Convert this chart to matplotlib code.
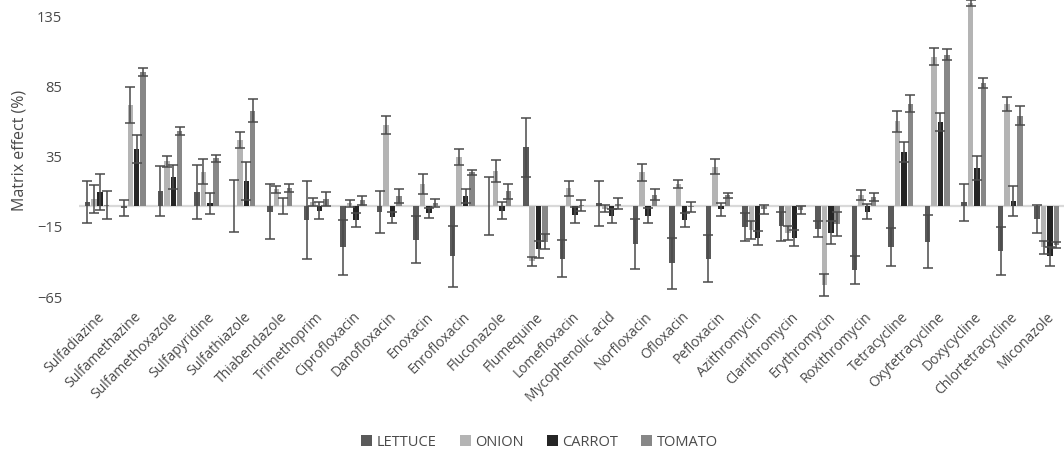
import numpy as np
import matplotlib
matplotlib.use("Agg")
import matplotlib.pyplot as plt

plt.rcParams['font.family'] = ['Open Sans', 'DejaVu Sans']

compounds = ["Sulfadiazine", "Sulfamethazine", "Sulfamethoxazole", "Sulfapyridine",
             "Sulfathiazole", "Thiabendazole", "Trimethoprim", "Ciprofloxacin",
             "Danofloxacin", "Enoxacin", "Enrofloxacin", "Fluconazole", "Flumequine",
             "Lomefloxacin", "Mycophenolic acid", "Norfloxacin", "Ofloxacin",
             "Pefloxacin", "Azithromycin", "Clarithromycin", "Erythromycin",
             "Roxithromycin", "Tetracycline", "Oxytetracycline", "Doxycycline",
             "Chlortetracycline", "Miconazole"]

lettuce = [3, -1.5, 10.5, 10, 0, -4, -10, -29.5, -4, -24, -36, 0, 42, -37.5, 2,
           -27, -41, -37.5, -15, -14.5, -16.5, -45.5, -29.5, -25.5, 2.5, -32, -9]
lettuce_err = [15, 6, 18, 19, 18.5, 19.5, 28, 19.5, 15, 16.5, 21.5, 20.5, 21, 13, 16,
               18, 18, 17, 10, 10.5, 6, 10, 13.5, 19, 13, 17, 10]

onion = [5, 72, 32, 24.5, 47, 12, 3, 2, 58, 15.5, 35, 25, -39.5, 12.5, -2,
         24, 15.5, 28, -17, -19.5, -56.5, 8, 60.5, 106.5, 145, 73, -29.5]
onion_err = [10, 13, 4, 9, 5.5, 2.5, 3, 2.5, 6.5, 7, 5.5, 8, 3, 5.5, 2.5,
             6, 3, 5.5, 6.5, 5, 8, 3.5, 7.5, 6, 2, 5, 4.5]

carrot = [10, 41, 20.5, 2, 18, 0, -3.5, -10, -8, -5, 7, -3.5, -31, -6.5, -7,
          -7, -10, -2.5, -23, -23, -19, -4, 38.5, 60, 27, 3.5, -36]
carrot_err = [13, 10, 8.5, 7.5, 13.5, 5.5, 6, 5, 4, 3.5, 5, 6, 6, 5.5, 5,
              5.5, 5, 4.5, 5, 5.5, 8, 5.5, 7, 6.5, 8.5, 10.5, 7]

tomato = [1, 95.5, 53.5, 34, 68, 13, 5, 4, 7, 2, 24, 10.5, -25.5, 0.5, 1.5,
          8, -1, 7.5, -2.5, -3, -13, 6.5, 73, 108, 87.5, 64.5, -28]
tomato_err = [10, 3, 3, 2.5, 8, 3, 5, 3, 5, 3, 2, 5.5, 5.5, 4, 4,
              4, 3.5, 2, 3, 3, 8.5, 3, 6, 4, 3.5, 6.5, 2]

series = [("LETTUCE", lettuce, lettuce_err, "#5a5a5a"),
          ("ONION", onion, onion_err, "#b4b4b4"),
          ("CARROT", carrot, carrot_err, "#252525"),
          ("TOMATO", tomato, tomato_err, "#878787")]

text_color = "#4a4a4a"

fig = plt.figure(figsize=(10.64, 4.53), dpi=100)
ax = fig.add_axes([0.074, 0.335, 0.927, 0.665])

x = np.arange(len(compounds))
step = 0.175
width = 0.15
for i, (name, vals, errs, color) in enumerate(series):
    ax.bar(x + (i - 1.5) * step, vals, width, color=color, label=name,
           yerr=errs, capsize=3.5,
           error_kw=dict(ecolor="#4a4a4a", elinewidth=1.1, capthick=1.1),
           zorder=2)

ax.axhline(0, color="#d9d9d9", linewidth=1.6, zorder=1)

ax.set_xlim(-0.5, len(compounds) - 0.5)
ax.set_ylim(-68, 147)
ax.set_yticks([-65, -15, 35, 85, 135])
ax.set_xticks(x)
ax.set_xticklabels(compounds, rotation=45, ha="right", rotation_mode="anchor",
                   fontsize=10, color=text_color)
ax.tick_params(axis="both", length=0)
ax.tick_params(axis="y", labelsize=10.5, colors=text_color, pad=12)
ax.tick_params(axis="x", pad=6)
for s in ax.spines.values():
    s.set_visible(False)

ax.set_ylabel("Matrix effect (%)", fontsize=11.5, color=text_color, labelpad=7)

fig.legend(loc="center", ncol=4, frameon=False, fontsize=10.5,
           bbox_to_anchor=(0.507, 0.024), handlelength=0.75, handleheight=0.75,
           handletextpad=0.3, columnspacing=1.6, labelcolor=text_color)

fig.savefig("out.png", dpi=100)
